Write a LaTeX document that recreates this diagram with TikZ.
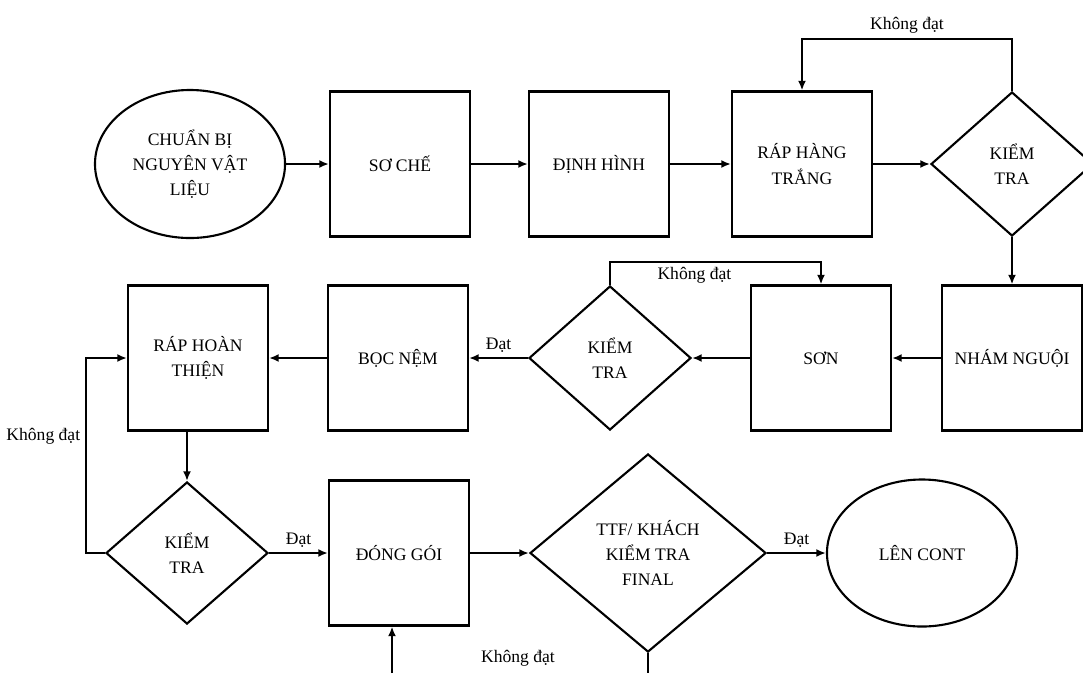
\documentclass[tikz,border=0pt]{standalone}
\usepackage{fontspec}
\setmainfont{Liberation Serif}
\usepackage{tikz}
\usetikzlibrary{arrows.meta, shapes.geometric}

\begin{document}
\begin{tikzpicture}[x=0.025cm, y=-0.025cm, >={Latex[length=2.4mm,width=2mm]}, line width=1.5pt,
    every node/.style={font=\fontsize{12.5}{18}\selectfont},
    box/.style={rectangle, draw, minimum width=3.5cm, minimum height=3.625cm, align=center},
    check/.style={diamond, draw, minimum width=4.05cm, minimum height=3.6cm, inner sep=0pt, align=center},
    oval/.style={ellipse, draw, minimum width=4.75cm, minimum height=3.7cm, align=center}]
    \clip (0,0) rectangle (1083,673);

    % first row
    \node[oval] (prep) at (190,164) {CHUẨN BỊ\\NGUYÊN VẬT\\LIỆU};
    \node[box] (soche) at (400,164) {SƠ CHẾ};
    \node[box] (dinhhinh) at (599,164) {ĐỊNH HÌNH};
    \node[box] (raptrang) at (802,164) {RÁP HÀNG\\TRẮNG};
    \node[check] (kt1) at (1012,164) {KIỂM\\TRA};

    % second row
    \node[box] (nham) at (1012,358) {NHÁM NGUỘI};
    \node[box] (son) at (821,358) {SƠN};
    \node[check] (kt2) at (610,358) {KIỂM\\TRA};
    \node[box] (bocnem) at (398,358) {BỌC NỆM};
    \node[box] (raphoan) at (198,358) {RÁP HOÀN\\THIỆN};

    % third row
    \node[check, minimum height=3.55cm] (kt3) at (187,553) {KIỂM\\TRA};
    \node[box] (donggoi) at (399,553) {ĐÓNG GÓI};
    \node[check, minimum width=5.9cm, minimum height=4.95cm] (final) at (648,553) {TTF/ KHÁCH\\KIỂM TRA\\FINAL};
    \node[oval, minimum height=3.675cm] (cont) at (922,553) {LÊN CONT};

    \coordinate (finalend) at (648,673);
    \coordinate (backstart) at (392,673);

    \draw[->] (prep) -- (soche);
    \draw[->] (soche) -- (dinhhinh);
    \draw[->] (dinhhinh) -- (raptrang);
    \draw[->] (raptrang) -- (kt1);
    \draw[->] (kt1.north) -- ++(0,-52) -| node[pos=0.25, above] {Không đạt} (raptrang.north);
    \draw[->] (kt1) -- (nham);

    \draw[->] (nham) -- (son);
    \draw[->] (son) -- (kt2);
    \draw[->] (kt2.north) -- ++(0,-23) -| node[pos=0.2, below] {Không đạt} (son.north);
    \draw[->] (kt2) -- node[above] {Đạt} (bocnem);
    \draw[->] (bocnem) -- (raphoan);
    \draw[->] (raphoan.south -| kt3.north) -- (kt3.north);

    \draw[->] (kt3.west) -- ++(-19,0) |- node[pos=0.3, left] {Không đạt} (raphoan.west);
    \draw[->] (kt3) -- node[above] {Đạt} (donggoi);
    \draw[->] (donggoi) -- (final);
    \draw[->] (final) -- node[above] {Đạt} (cont);
    \draw (final.south) -- (finalend);
    \draw[->] (backstart) -- (backstart |- donggoi.south);
    \node (khongdat) at (518,658) {Không đạt};
\end{tikzpicture}
\end{document}
